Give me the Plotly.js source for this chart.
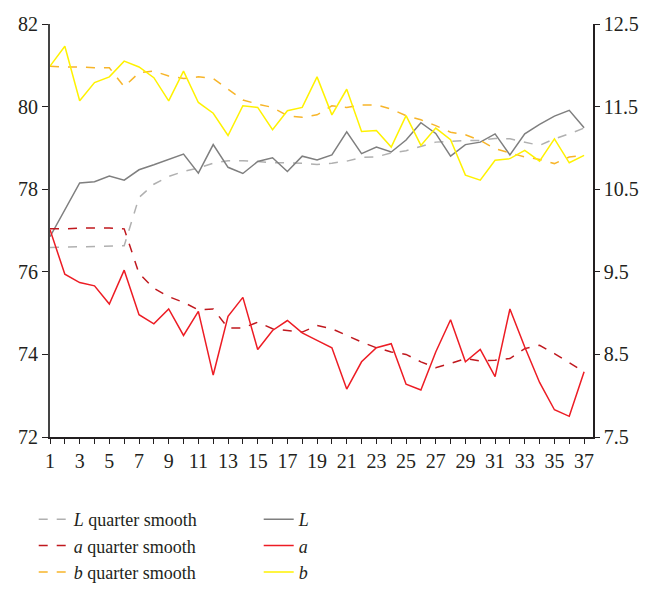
<!DOCTYPE html>
<html>
<head>
<meta charset="utf-8">
<script src="https://cdn.plot.ly/plotly-3.0.1.min.js"></script>
<style>
  body { margin: 0; background: #fff; }
  #chart { width: 653px; height: 603px; }
</style>
</head>
<body>
<div id="chart"></div>
<script>
const samples = Array.from({ length: 37 }, (_, i) => i + 1);

// L on the left axis, a and b on the right axis
const lValues = [76.85, 77.5, 78.15, 78.18, 78.32, 78.22, 78.47, 78.59, 78.72, 78.85,
  78.39, 79.08, 78.53, 78.38, 78.67, 78.76, 78.43, 78.8, 78.71, 78.83,
  79.39, 78.86, 79.02, 78.9, 79.19, 79.61, 79.35, 78.8, 79.08, 79.14,
  79.34, 78.83, 79.34, 79.57, 79.77, 79.91, 79.49];
const lSmooth = [76.59, 76.6, 76.61, 76.62, 76.62, 76.63, 77.8, 78.12, 78.31, 78.43,
  78.51, 78.63, 78.69, 78.69, 78.67, 78.64, 78.64, 78.63, 78.6, 78.63,
  78.68, 78.77, 78.78, 78.88, 78.93, 79.04, 79.14, 79.16, 79.18, 79.18,
  79.23, 79.22, 79.14, 79.06, 79.22, 79.34, 79.48];
const aValues = [10.01, 9.47, 9.37, 9.33, 9.11, 9.52, 8.98, 8.87, 9.05, 8.73,
  9.02, 8.25, 8.96, 9.19, 8.56, 8.79, 8.91, 8.76, 8.67, 8.58,
  8.08, 8.41, 8.58, 8.63, 8.14, 8.07, 8.53, 8.92, 8.41, 8.56,
  8.23, 9.05, 8.59, 8.16, 7.83, 7.75, 8.29];
const aSmooth = [10.02, 10.02, 10.03, 10.03, 10.03, 10.02, 9.48, 9.3, 9.2, 9.13,
  9.04, 9.05, 8.82, 8.82, 8.89, 8.81, 8.79, 8.77, 8.85, 8.81,
  8.73, 8.65, 8.58, 8.53, 8.5, 8.41, 8.34, 8.39, 8.45, 8.42,
  8.43, 8.45, 8.57, 8.61, 8.51, 8.4, 8.29];
const bValues = [11.99, 12.23, 11.57, 11.79, 11.86, 12.05, 11.98, 11.85, 11.57, 11.93,
  11.55, 11.42, 11.15, 11.51, 11.49, 11.22, 11.45, 11.49, 11.86, 11.4,
  11.71, 11.2, 11.21, 11.01, 11.39, 11.03, 11.24, 11.1, 10.67, 10.61,
  10.85, 10.87, 10.97, 10.84, 11.11, 10.82, 10.91];
const bSmooth = [11.99, 11.98, 11.98, 11.97, 11.97, 11.74, 11.91, 11.93, 11.87, 11.84,
  11.86, 11.84, 11.71, 11.58, 11.53, 11.49, 11.39, 11.37, 11.4, 11.51,
  11.49, 11.52, 11.52, 11.47, 11.39, 11.34, 11.27, 11.19, 11.16, 11.09,
  10.99, 10.94, 10.89, 10.86, 10.81, 10.89, 10.91];

const leftTicks = [72, 74, 76, 78, 80, 82];
const rightTicks = [7.5, 8.5, 9.5, 10.5, 11.5, 12.5];
const xTickText = samples.map(n => (n % 2 === 1 ? String(n) : ''));

function line(name, y, color, dash, axis) {
  return {
    x: samples, y, name, type: 'scatter', mode: 'lines', yaxis: axis,
    line: { color, width: 1.5, dash },
  };
}

const traces = [
  line('<i>L</i> quarter smooth', lSmooth, '#b0b0b0', 'dash', 'y'),
  line('<i>L</i>', lValues, '#7f7f7f', 'solid', 'y'),
  line('<i>a</i> quarter smooth', aSmooth, '#c0181e', 'dash', 'y2'),
  line('<i>a</i>', aValues, '#ed1c24', 'solid', 'y2'),
  line('<i>b</i> quarter smooth', bSmooth, '#f7b52a', 'dash', 'y2'),
  line('<i>b</i>', bValues, '#fff200', 'solid', 'y2'),
];

const font = { family: 'Liberation Serif, Times New Roman, serif', size: 18, color: '#231f20' };
const tickFont = { family: font.family, size: 20, color: '#231f20' };

Plotly.newPlot('chart', traces, {
  width: 653,
  height: 603,
  margin: { l: 50, r: 60, t: 24, b: 156 },
  paper_bgcolor: '#fff',
  plot_bgcolor: '#fff',
  font,
  showlegend: true,
  legend: {
    orientation: 'h', x: -0.03, y: -0.155, xanchor: 'left', yanchor: 'top',
    entrywidth: 180, traceorder: 'normal', font,
  },
  xaxis: {
    range: [1, 37.6], tickmode: 'array', tickvals: samples, ticktext: xTickText,
    ticks: 'outside', ticklen: 5, tickcolor: '#231f20', showgrid: false, zeroline: false,
    showline: true, linecolor: '#231f20', linewidth: 1.5, tickangle: 0, tickfont: tickFont,
  },
  yaxis: {
    range: [72, 82], tickvals: leftTicks, ticks: 'outside', ticklen: 6,
    tickcolor: '#231f20', showgrid: false, zeroline: false, tickfont: tickFont,
    showline: true, linecolor: '#444', linewidth: 2,
  },
  yaxis2: {
    range: [7.5, 12.5], tickvals: rightTicks, ticks: 'outside', ticklen: 5,
    tickcolor: '#231f20', overlaying: 'y', side: 'right', showgrid: false, zeroline: false,
    showline: true, linecolor: '#231f20', linewidth: 1.5, tickformat: '.1f', tickfont: tickFont,
  },
}, { displayModeBar: false });
</script>
</body>
</html>
